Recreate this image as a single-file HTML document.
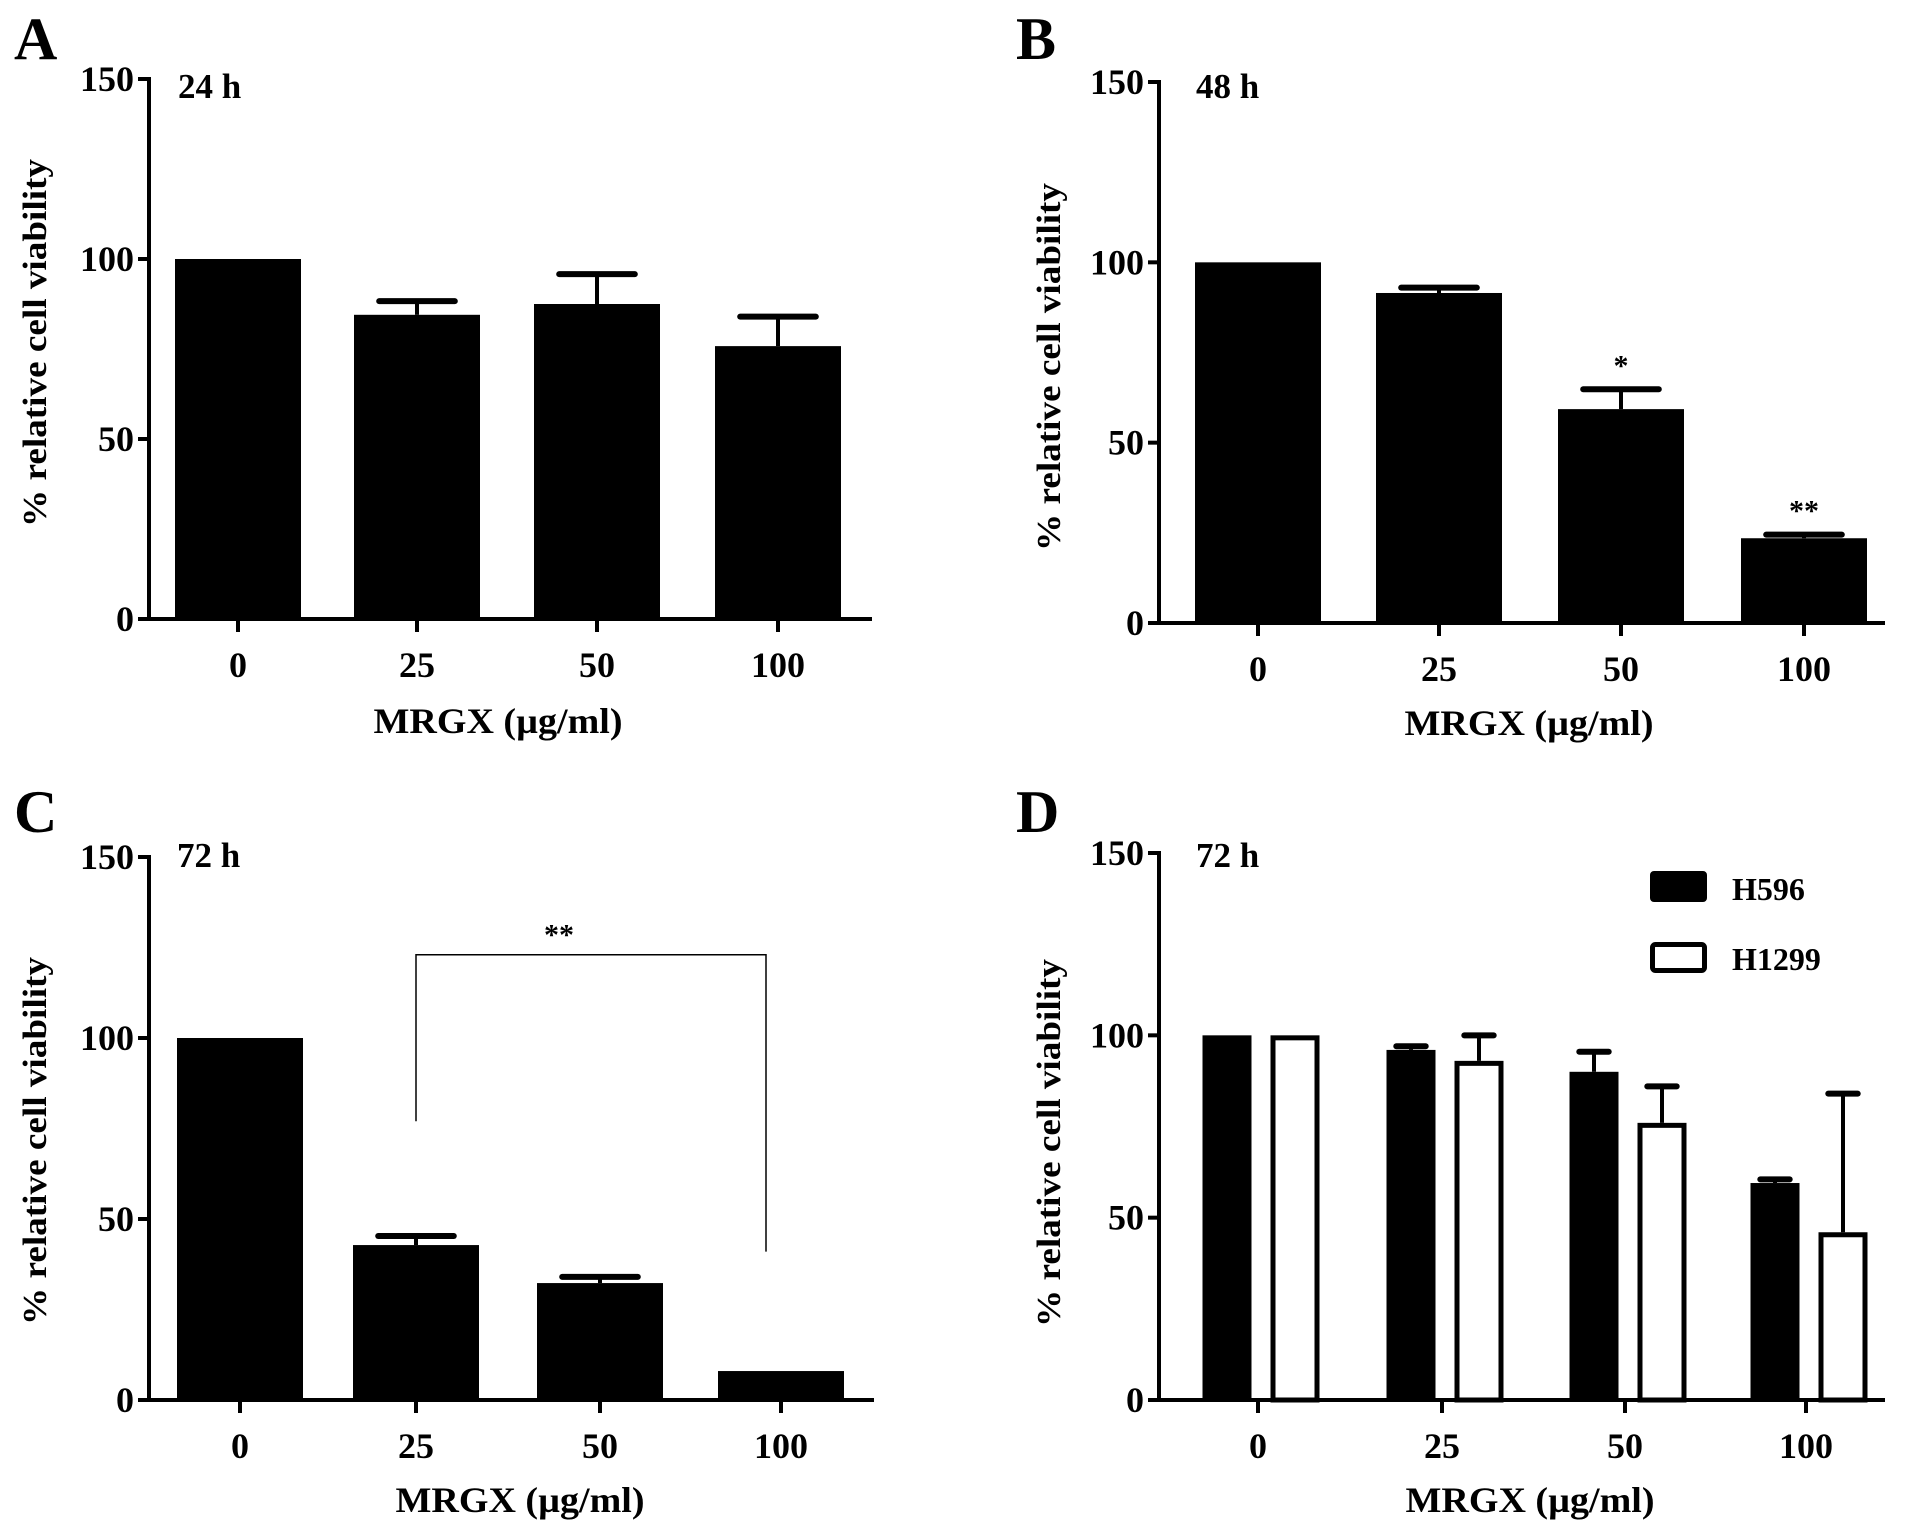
<!DOCTYPE html>
<html><head><meta charset="utf-8"><style>
html,body{margin:0;padding:0;background:#fff;}
svg{display:block;font-family:"Liberation Serif",serif;font-weight:bold;}
</style></head><body>
<svg id="fig" width="1913" height="1530" viewBox="0 0 1913 1530"></svg>
<script>
const categories = ["0","25","50","100"];
const yTicks = [0,50,100,150];
const valuesA = [100,84.5,87.5,75.8];
const errA = [null,88.3,95.8,84];
const valuesB = [100,91.5,59.3,23.5];
const errB = [null,93,64.8,24.5];
const starsB = ["","","*","**"];
const valuesC = [100,42.8,32.3,8];
const errC = [null,45.3,34,null];
const valuesD1 = [100,96,90,59.5];
const errD1 = [null,97,95.5,60.5];
const valuesD2 = [100,93,76,46];
const errD2 = [null,100,86,84];
const seriesNames = ["H596","H1299"];

const NS="http://www.w3.org/2000/svg";
const svg=document.getElementById('fig');
function mk(tag,attrs,parent,text){const e=document.createElementNS(NS,tag);for(const k in attrs)e.setAttribute(k,attrs[k]);if(text!==undefined)e.textContent=text;(parent||svg).appendChild(e);return e;}

const panels=[
 {id:'a',letter:'A',lx:14,ly:59,ax:149,y0:619,y150:79,xEnd:872,ticks:[238,417,597,778],time:'24 h',tx:178,ty:98,xt:498,xty:733,yt:46,ytc:343},
 {id:'b',letter:'B',lx:1016,ly:59,ax:1159,y0:623,y150:82,xEnd:1885,ticks:[1258,1439,1621,1804],time:'48 h',tx:1196,ty:98,xt:1529,xty:735,yt:1060,ytc:367},
 {id:'c',letter:'C',lx:14,ly:832,ax:149,y0:1400,y150:857,xEnd:874,ticks:[240,416,600,781],time:'72 h',tx:177,ty:867,xt:520,xty:1512,yt:46,ytc:1141},
 {id:'d',letter:'D',lx:1016,ly:832,ax:1159,y0:1400,y150:853,xEnd:1885,ticks:[1258,1442,1625,1806],time:'72 h',tx:1196,ty:867,xt:1530,xty:1512,yt:1060,ytc:1143}
];

function yScale(p,v){return p.y0-(p.y0-p.y150)*v/150;}

function drawAxes(p){
  const g=mk('g',{});
  
  
  const L=mk('text',{x:p.lx,y:p.ly,'font-size':60},g,p.letter);
  
  
  const T=mk('text',{x:p.tx,y:p.ty,'font-size':35},g,p.time);
  
  
  const ya=mk('line',{x1:p.ax,y1:p.y150-2,x2:p.ax,y2:p.y0+2,stroke:'#000','stroke-width':4},g);
  
  
  const xa=mk('line',{x1:p.ax-10,y1:p.y0,x2:p.xEnd,y2:p.y0,stroke:'#000','stroke-width':4},g);
  
  
  yTicks.forEach(t=>{
    const y=yScale(p,t);
    mk('line',{x1:p.ax-11,y1:y,x2:p.ax,y2:y,stroke:'#000','stroke-width':4},g);
    const tl=mk('text',{x:p.ax-15,y:y+12,'font-size':36,'text-anchor':'end'},g,String(t));
    
    
  });
  categories.forEach((c,i)=>{
    const x=p.ticks[i];
    mk('line',{x1:x,y1:p.y0,x2:x,y2:p.y0+13,stroke:'#000','stroke-width':4},g);
    const tl=mk('text',{x:x,y:p.y0+58,'font-size':36,'text-anchor':'middle'},g,c);
    
    
  });
  const xt=mk('text',{x:p.xt,y:p.xty,'font-size':36,'text-anchor':'middle',textLength:249,lengthAdjust:'spacingAndGlyphs'},g,'MRGX (µg/ml)');
  
  
  const yt=mk('text',{x:0,y:0,'font-size':34,'text-anchor':'middle',textLength:368,lengthAdjust:'spacingAndGlyphs',transform:`translate(${p.yt},${p.ytc}) rotate(-90)`},g,'% relative cell viability');
  
  
  return g;
}

function bar(p,g,cx,w,v,err,fill,name){
  const y=yScale(p,v);
  if(err!=null){
    const ye=yScale(p,err);
    mk('line',{x1:cx,y1:ye,x2:cx,y2:y,stroke:'#000','stroke-width':4},g);
    const cap=mk('line',{x1:cx-w*0.3,y1:ye,x2:cx+w*0.3,y2:ye,stroke:'#000','stroke-width':6,'stroke-linecap':'round'},g);
    
    
  }
  const inset=fill==='#000'?0:2.5;
  const r=mk('rect',{x:cx-w/2+inset,y:y+inset,width:w-2*inset,height:p.y0-y-inset,fill:fill,stroke:'#000','stroke-width':fill==='#000'?0:5},g);
  
  
}

[[0,valuesA,errA],[1,valuesB,errB],[2,valuesC,errC]].forEach(([pi,vals,errs])=>{
  const p=panels[pi];const g=drawAxes(p);
  vals.forEach((v,i)=>bar(p,g,p.ticks[i],126,v,errs[i],'#000',p.id+'-'+categories[i]));
});
{
  const p=panels[1];
  starsB.forEach((s,i)=>{
    if(!s)return;
    const top=errB[i]!=null?errB[i]:valuesB[i];
    const st=mk('text',{x:p.ticks[i],y:yScale(p,top)-14,'font-size':30,'text-anchor':'middle'},svg,s);
    
    
  });
}
{
  const p=panels[2];
  const x1=p.ticks[1], x2=p.ticks[3]-15, yTop=yScale(p,123);
  const br=mk('path',{d:`M${x1},${yScale(p,77)} L${x1},${yTop} L${x2},${yTop} L${x2},${yScale(p,41)}`,fill:'none',stroke:'#000','stroke-width':1.5},svg);
  
  
  const st=mk('text',{x:(x1+x2)/2-32,y:yTop-10,'font-size':30,'text-anchor':'middle'},svg,'**');
  
  
}
{
  const p=panels[3];const g=drawAxes(p);
  categories.forEach((c,i)=>{
    bar(p,g,p.ticks[i]-31,49,valuesD1[i],errD1[i],'#000','h596-'+c);
    bar(p,g,p.ticks[i]+37,49,valuesD2[i],errD2[i],'#fff','h1299-'+c);
  });
  const lg=mk('g',{},svg);
  
  
  const r1=mk('rect',{x:1650,y:871,width:57,height:31,rx:4,fill:'#000'},lg);
  
  
  const t1=mk('text',{x:1732,y:900,'font-size':32},lg,seriesNames[0]);
  
  
  const r2=mk('rect',{x:1652.5,y:944.5,width:52,height:26,rx:3,fill:'#fff',stroke:'#000','stroke-width':5},lg);
  
  
  const t2=mk('text',{x:1732,y:970,'font-size':32},lg,seriesNames[1]);
  
  
}
</script>
</body></html>
